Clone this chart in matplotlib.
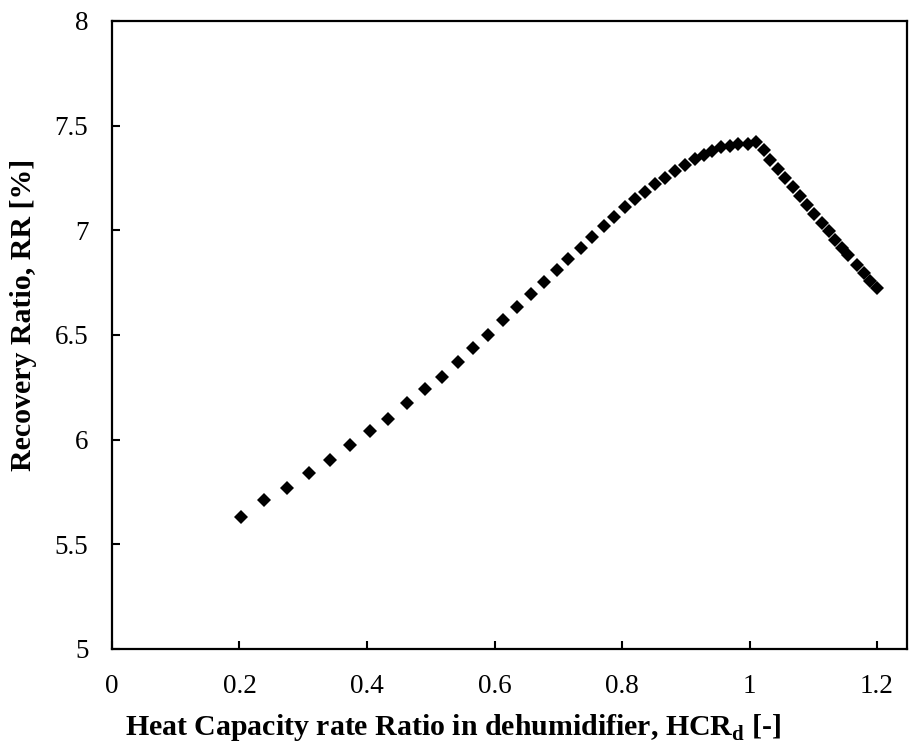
import matplotlib
matplotlib.use("Agg")
import matplotlib.pyplot as plt

hcr = [0.202, 0.239, 0.275, 0.309, 0.342, 0.374, 0.404, 0.433, 0.462, 0.491,
       0.517, 0.542, 0.567, 0.590, 0.613, 0.636, 0.657, 0.678, 0.698, 0.716,
       0.735, 0.753, 0.771, 0.788, 0.805, 0.820, 0.836, 0.852, 0.868, 0.883,
       0.899, 0.915, 0.928, 0.941, 0.955, 0.969, 0.982, 0.997, 1.010,
       1.022, 1.032, 1.044, 1.056, 1.068, 1.079, 1.090, 1.101, 1.113, 1.124,
       1.134, 1.145, 1.155, 1.168, 1.179, 1.189, 1.200]
rr = [5.63, 5.71, 5.77, 5.84, 5.905, 5.975, 6.04, 6.10, 6.175, 6.24,
      6.30, 6.37, 6.44, 6.50, 6.57, 6.635, 6.695, 6.755, 6.81, 6.865,
      6.915, 6.97, 7.02, 7.065, 7.11, 7.15, 7.185, 7.22, 7.25, 7.285,
      7.31, 7.34, 7.36, 7.38, 7.40, 7.405, 7.41, 7.41, 7.42,
      7.385, 7.338, 7.295, 7.25, 7.205, 7.162, 7.123, 7.08, 7.035, 6.995,
      6.956, 6.916, 6.884, 6.836, 6.796, 6.757, 6.725]

xticks = [0, 0.2, 0.4, 0.6, 0.8, 1.0, 1.2]
xticklabels = ["0", "0.2", "0.4", "0.6", "0.8", "1", "1.2"]
yticks = [5, 5.5, 6, 6.5, 7, 7.5, 8]
yticklabels = ["5", "5.5", "6", "6.5", "7", "7.5", "8"]

plt.rcParams['font.family'] = ['Liberation Serif', 'DejaVu Serif']
plt.rcParams['mathtext.fontset'] = 'custom'
plt.rcParams['mathtext.rm'] = 'Liberation Serif'
plt.rcParams['mathtext.bf'] = 'Liberation Serif:bold'

fig = plt.figure(figsize=(9.09, 7.47), dpi=100)
ax = fig.add_axes([0.1232, 0.1312, 0.8746, 0.8407])

ax.plot(hcr, rr, linestyle='none', marker='D', markersize=6.8,
        color='black', markeredgewidth=0)

ax.set_xlim(0, 1.247)
ax.set_ylim(5, 8)
ax.set_xticks(xticks)
ax.set_xticklabels(xticklabels)
ax.set_yticks(yticks)
ax.set_yticklabels(yticklabels)
ax.tick_params(direction='in', length=6, width=1.5, labelsize=19.5,
               top=False, right=False)
ax.tick_params(axis='x', pad=18)
ax.tick_params(axis='y', pad=17)
for s in ax.spines.values():
    s.set_linewidth(1.6)

ax.set_xlabel(r'Heat Capacity rate Ratio in dehumidifier, HCR$_{\mathbf{d}}$ [-]',
              fontsize=21.5, fontweight='bold')
ax.set_ylabel('Recovery Ratio, RR [%]', fontsize=21.5, fontweight='bold')
ax.xaxis.set_label_coords(0.429, -0.100)
ax.yaxis.set_label_coords(-0.094, 0.532)

fig.savefig('out.png', dpi=100)
